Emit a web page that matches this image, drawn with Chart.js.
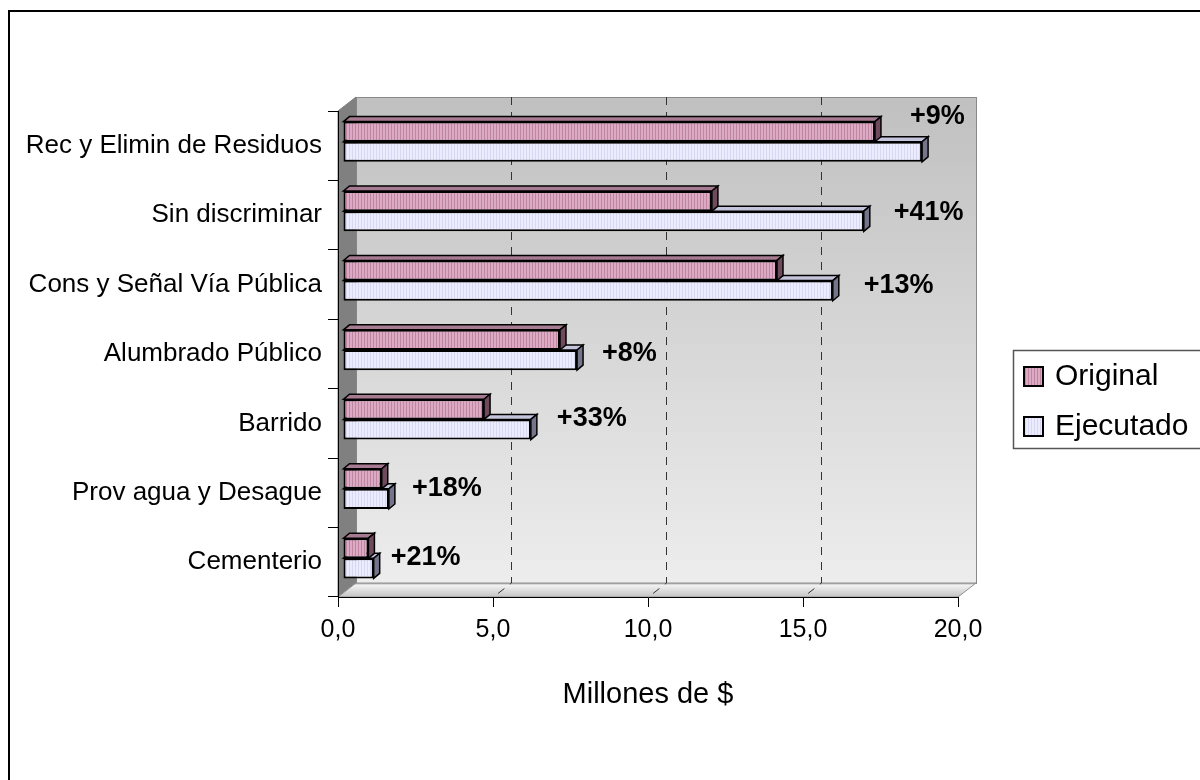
<!DOCTYPE html>
<html>
<head>
<meta charset="utf-8">
<script src="https://cdn.jsdelivr.net/npm/chart.js@4.4.0/dist/chart.umd.min.js"></script>
<style>
  html, body { margin: 0; padding: 0; background: #fff; }
</style>
</head>
<body>
<canvas id="myChart" width="1200" height="780"></canvas>
<script>
const categories = [
    'Rec y Elimin de Residuos',
    'Sin discriminar',
    'Cons y Señal Vía Pública',
    'Alumbrado Público',
    'Barrido',
    'Prov agua y Desague',
    'Cementerio'
];
const original = [17.16, 11.9, 14.0, 7.0, 4.55, 1.25, 0.82];
const ejecutado = [18.68, 16.8, 15.8, 7.55, 6.06, 1.48, 0.99];
const xTicks = [0, 5, 10, 15, 20];

// nudges for the % change labels, relative to the end of the Ejecutado bar
const pctShift = [[-12, -35], [30, -9], [31, -5], [25, -7], [26, -11], [23, -10], [17, -11]];

const FONT = '"Liberation Sans", Arial, sans-serif';
const WALL = { dx: 18, dy: -14 };   // depth of the 3d box
const BAR = { dx: 6, dy: -5 };      // depth of each bar
const SHIFT = { x: 5, y: -4 };      // bars sit a bit inside the box

const canvas = document.getElementById('myChart');
const ctx = canvas.getContext('2d');

function stripes(a, b) {
    const c = document.createElement('canvas');
    c.width = 3; c.height = 1;
    const g = c.getContext('2d');
    g.fillStyle = a; g.fillRect(0, 0, 3, 1);
    g.fillStyle = b; g.fillRect(2, 0, 1, 1);
    return ctx.createPattern(c, 'repeat');
}

const pinkFill = stripes('#dcaac4', '#c0869f');
const lilacFill = stripes('#ececff', '#d8d8f2');

const faces = [
    { top: '#a67a90', end: '#6e4a5c' },
    { top: '#c4c4dc', end: '#74748a' }
];

function poly(c, pts, fill) {
    c.beginPath();
    c.moveTo(pts[0][0], pts[0][1]);
    for (let i = 1; i < pts.length; i++) c.lineTo(pts[i][0], pts[i][1]);
    c.closePath();
    c.fillStyle = fill;
    c.fill();
    c.stroke();
}

const box3d = {
    id: 'box3d',
    beforeDraw(chart) {
        const c = chart.ctx;
        const a = chart.chartArea;
        const xs = chart.scales.x;
        c.save();
        c.fillStyle = '#fff';
        c.fillRect(0, 0, chart.width, chart.height);

        // outer frame
        c.lineWidth = 2;
        c.strokeStyle = '#000';
        c.strokeRect(9, 11, 1220, 820);

        const bl = a.left + WALL.dx, bt = a.top + WALL.dy;
        const br = a.right + WALL.dx, bb = a.bottom + WALL.dy;

        // back wall
        const g = c.createLinearGradient(0, bt, 0, bb);
        g.addColorStop(0, '#c0c0c0');
        g.addColorStop(1, '#ededed');
        c.fillStyle = g;
        c.fillRect(bl, bt, br - bl, bb - bt);
        c.lineWidth = 1;
        c.strokeStyle = '#8a8a8a';
        c.strokeRect(bl + 0.5, bt + 0.5, br - bl, bb - bt);

        // side wall
        c.strokeStyle = '#808080';
        poly(c, [[a.left, a.top], [bl, bt], [bl, bb], [a.left, a.bottom]], '#808080');

        // floor
        const fg = c.createLinearGradient(0, bb, 0, a.bottom);
        fg.addColorStop(0, '#9a9a9a');
        fg.addColorStop(0.15, '#f2f2f2');
        fg.addColorStop(1, '#c4c4c4');
        c.strokeStyle = '#909090';
        poly(c, [[a.left, a.bottom], [bl, bb], [br, bb], [a.right, a.bottom]], fg);

        // dashed gridlines on the wall and floor
        c.strokeStyle = '#333';
        c.lineWidth = 1;
        c.setLineDash([8, 7]);
        xTicks.slice(1, -1).forEach(v => {
            const fx = Math.round(xs.getPixelForValue(v)) + 0.5;
            c.beginPath();
            c.moveTo(fx + WALL.dx, bt);
            c.lineTo(fx + WALL.dx, bb);
            c.lineTo(fx, a.bottom);
            c.stroke();
        });
        c.restore();
    },
    beforeDatasetsDraw(chart) {
        chart.ctx.save();
        chart.ctx.translate(SHIFT.x, SHIFT.y);
    },
    beforeDatasetDraw(chart, args) {
        const c = chart.ctx;
        const col = faces[args.index];
        c.save();
        c.strokeStyle = '#000';
        c.lineWidth = 1.5;
        args.meta.data.forEach(bar => {
            const p = bar.getProps(['x', 'y', 'base', 'height'], true);
            const t = p.y - p.height / 2, b = p.y + p.height / 2;
            poly(c, [[p.base, t], [p.x, t], [p.x + BAR.dx, t + BAR.dy], [p.base + BAR.dx, t + BAR.dy]], col.top);
            poly(c, [[p.x, t], [p.x + BAR.dx, t + BAR.dy], [p.x + BAR.dx, b + BAR.dy], [p.x, b]], col.end);
        });
        c.restore();
    },
    afterDatasetsDraw(chart) {
        const c = chart.ctx;
        // % change labels next to the Ejecutado bars
        const meta = chart.getDatasetMeta(1);
        c.fillStyle = '#000';
        c.font = 'bold 27px ' + FONT;
        c.textAlign = 'left';
        c.textBaseline = 'middle';
        meta.data.forEach((bar, i) => {
            const pct = Math.round((ejecutado[i] / original[i] - 1) * 100);
            const s = pctShift[i];
            c.fillText('+' + pct + '%', bar.x + s[0], bar.y + s[1]);
        });
        c.restore();
    },
    afterDraw(chart) {
        const c = chart.ctx;
        c.save();
        // legend box
        c.fillStyle = '#fff';
        c.fillRect(1013, 350, 200, 99);
        c.lineWidth = 1.5;
        c.strokeStyle = '#555';
        c.strokeRect(1013.5, 350.5, 200, 98);
        chart.data.datasets.forEach((ds, i) => {
            const y = 367 + i * 50;
            c.fillStyle = ds.backgroundColor;
            c.fillRect(1024, y, 19, 19);
            c.lineWidth = 2;
            c.strokeStyle = '#000';
            c.strokeRect(1024, y, 19, 19);
            c.fillStyle = '#000';
            c.font = '30px ' + FONT;
            c.textAlign = 'left';
            c.textBaseline = 'middle';
            c.fillText(ds.label, 1055, y + 10);
        });
        c.restore();
    }
};

const config = {
    type: 'bar',
    data: {
        labels: categories,
        datasets: [{
            label: 'Original',
            data: original,
            backgroundColor: pinkFill,
            borderColor: '#000',
            borderWidth: 2,
            borderSkipped: false,
            categoryPercentage: 0.58,
            barPercentage: 1.0
        }, {
            label: 'Ejecutado',
            data: ejecutado,
            backgroundColor: lilacFill,
            borderColor: '#000',
            borderWidth: 2,
            borderSkipped: false,
            categoryPercentage: 0.58,
            barPercentage: 1.0
        }]
    },
    options: {
        indexAxis: 'y',
        responsive: false,
        animation: false,
        events: [],
        layout: { padding: { left: 0, right: 242, top: 111, bottom: 0 } },
        plugins: {
            legend: { display: false },
            tooltip: { enabled: false }
        },
        scales: {
            x: {
                min: 0,
                max: 20,
                afterBuildTicks: s => { s.ticks = xTicks.map(v => ({ value: v })); },
                afterFit: s => { s.height = 183; },
                grid: { drawOnChartArea: false, color: '#000', tickLength: 10 },
                border: { color: '#000', width: 1 },
                ticks: {
                    color: '#000',
                    padding: 8,
                    font: { family: FONT, size: 25 },
                    callback: v => Number(v).toFixed(1).replace('.', ',')
                },
                title: {
                    display: true,
                    text: 'Millones de $',
                    color: '#000',
                    font: { family: FONT, size: 29 },
                    padding: { top: 0, bottom: 68 }
                }
            },
            y: {
                afterFit: s => { s.width = 338; },
                grid: { drawOnChartArea: false, offset: true, color: '#000', tickLength: 10 },
                border: { color: '#000', width: 1 },
                ticks: {
                    color: '#000',
                    padding: 6,
                    font: { family: FONT, size: 26 }
                }
            }
        }
    },
    plugins: [box3d]
};

var myChart = new Chart(canvas, config);
</script>
</body>
</html>
